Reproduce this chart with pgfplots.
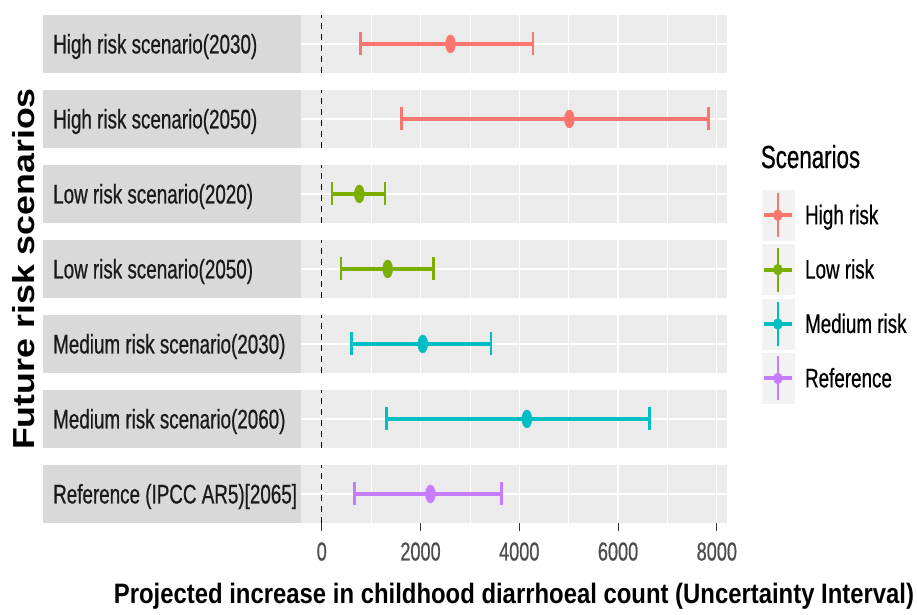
\documentclass[border=0pt]{standalone}
\usepackage{pgfplots}
\pgfplotsset{compat=1.18}
\usepackage{graphicx}
\usepackage{fontspec}
\setmainfont{Liberation Sans}[FakeStretch=0.70, FakeBold=0.6]
\newfontfamily\titlefont{Liberation Sans}[FakeStretch=0.85]
\newfontfamily\ytitlefont{Liberation Sans}
\definecolor{highc}{HTML}{F8766D}
\definecolor{lowc}{HTML}{7CAE00}
\definecolor{medc}{HTML}{00BFC4}
\definecolor{refc}{HTML}{C77CFF}
\definecolor{panelbg}{HTML}{EBEBEB}
\definecolor{stripbg}{HTML}{D9D9D9}
\definecolor{keybg}{HTML}{F2F2F2}
\definecolor{grey30}{HTML}{4D4D4D}
\definecolor{grey20}{HTML}{333333}
\definecolor{grey10}{HTML}{1A1A1A}
\pgfplotsset{
  basepanel/.style={scale only axis, width=425.7bp, height=58.5bp, anchor=north west,
    xmin=-420, xmax=8200, ymin=-1, ymax=1,
    axis background/.style={fill=panelbg},
    axis line style={draw=none},
    xtick={0,2000,4000,6000,8000}, minor x tick num=1,
    ytick={0}, yticklabels={}, ytick style={draw=none},
    xmajorgrids, xminorgrids, ymajorgrids,
    major grid style={white, line width=1.2bp},
    minor grid style={white, line width=0.7bp},
    minor tick length=0pt, xtick style={draw=none}},
  panel/.style={basepanel, xticklabels={}},
  series/.style={#1, only marks, mark=*, mark size=9bp,
    mark options={xscale=0.55, draw=none, fill=#1},
    error bars/.cd, x dir=both, x explicit,
    error bar style={line width=4bp, #1},
    error mark options={rotate=90, line width=2.6bp, mark size=11.5bp, #1}},
  zero/.style={black, dash pattern=on 6bp off 5bp, line width=1.2bp}
}
\usetikzlibrary{calc}
\newcommand{\striplabel}[2]{%
  \fill[stripbg] (43bp,-#1bp) rectangle ++(258bp,-58.5bp);
  \node[anchor=base west, inner sep=0pt, text=grey10, font=\fontsize{27}{27}\selectfont] at ($(53bp,-#1bp)+(0,-38.75bp)$) {#2};}
\begin{document}
\begin{tikzpicture}
\useasboundingbox (0,0) rectangle (917bp,-615bp);
\striplabel{14.7}{High risk scenario(2030)}
\striplabel{89.7}{High risk scenario(2050)}
\striplabel{164.7}{Low risk scenario(2020)}
\striplabel{239.7}{Low risk scenario(2050)}
\striplabel{314.7}{Medium risk scenario(2030)}
\striplabel{389.7}{Medium risk scenario(2060)}
\striplabel{464.7}{Reference (IPCC AR5)[2065]}

\begin{axis}[panel, at={(301bp,-14.7bp)}]
\addplot[zero] coordinates {(0,-1) (0,1)};
\addplot[series=highc] table[x=mid, y=y, x error plus expr=\thisrow{hi}-\thisrow{mid}, x error minus expr=\thisrow{mid}-\thisrow{lo}] {
lo mid hi y
781 2607 4276 0
};
\end{axis}

\begin{axis}[panel, at={(301bp,-89.7bp)}]
\addplot[zero] coordinates {(0,-1) (0,1)};
\addplot[series=highc] table[x=mid, y=y, x error plus expr=\thisrow{hi}-\thisrow{mid}, x error minus expr=\thisrow{mid}-\thisrow{lo}] {
lo mid hi y
1613 5014 7826 0
};
\end{axis}

\begin{axis}[panel, at={(301bp,-164.7bp)}]
\addplot[zero] coordinates {(0,-1) (0,1)};
\addplot[series=lowc] table[x=mid, y=y, x error plus expr=\thisrow{hi}-\thisrow{mid}, x error minus expr=\thisrow{mid}-\thisrow{lo}] {
lo mid hi y
207 761 1282 0
};
\end{axis}

\begin{axis}[panel, at={(301bp,-239.7bp)},
  legend image code/.code={
    \fill[keybg] (0bp,-25bp) rectangle (32bp,25bp);
    \draw[#1, line width=2bp] (16bp,-22bp) -- (16bp,22bp);
    \draw[#1, line width=4bp] (2bp,0bp) -- (30bp,0bp);
    \fill[#1] (16bp,0bp) ellipse [x radius=4.5bp, y radius=5.5bp];
  },
  legend cell align=left,
  legend style={at={(1.0822,1.8496)}, anchor=north west, draw=none, fill=none,
    inner sep=0pt, outer sep=0pt, row sep=4bp,
    font=\fontsize{27}{27}\selectfont,
    /tikz/every odd column/.append style={column sep=9bp}}]
\addplot[forget plot, zero] coordinates {(0,-1) (0,1)};
\addplot[forget plot, series=lowc] table[x=mid, y=y, x error plus expr=\thisrow{hi}-\thisrow{mid}, x error minus expr=\thisrow{mid}-\thisrow{lo}] {
lo mid hi y
389 1335 2262 0
};
\addlegendimage{color=highc}
\addlegendentry{High risk}
\addlegendimage{color=lowc}
\addlegendentry{Low risk}
\addlegendimage{color=medc}
\addlegendentry{Medium risk}
\addlegendimage{color=refc}
\addlegendentry{Reference}
\end{axis}

\begin{axis}[panel, at={(301bp,-314.7bp)}]
\addplot[zero] coordinates {(0,-1) (0,1)};
\addplot[series=medc] table[x=mid, y=y, x error plus expr=\thisrow{hi}-\thisrow{mid}, x error minus expr=\thisrow{mid}-\thisrow{lo}] {
lo mid hi y
605 2045 3424 0
};
\end{axis}

\begin{axis}[panel, at={(301bp,-389.7bp)}]
\addplot[zero] coordinates {(0,-1) (0,1)};
\addplot[series=medc] table[x=mid, y=y, x error plus expr=\thisrow{hi}-\thisrow{mid}, x error minus expr=\thisrow{mid}-\thisrow{lo}] {
lo mid hi y
1308 4154 6637 0
};
\end{axis}

\begin{axis}[panel, at={(301bp,-464.7bp)}]
\addplot[zero] coordinates {(0,-1) (0,1)};
\addplot[series=refc] table[x=mid, y=y, x error plus expr=\thisrow{hi}-\thisrow{mid}, x error minus expr=\thisrow{mid}-\thisrow{lo}] {
lo mid hi y
666 2201 3635 0
};
\end{axis}

% thin axis below the last panel: its grid lines are the tick marks
\begin{axis}[scale only axis, width=425.7bp, height=8bp, anchor=north west,
  at={(301bp,-523.2bp)},
  xmin=-420, xmax=8200, ymin=0, ymax=1,
  axis line style={draw=none},
  xtick={0,2000,4000,6000,8000}, ytick=\empty,
  xtick style={draw=none},
  xmajorgrids, major grid style={grey20, line width=1.1bp},
  /pgf/number format/assume math mode=true,
  /pgf/number format/1000 sep={},
  xticklabel style={font=\fontsize{26}{26}\selectfont, text=grey30, anchor=north, inner sep=0pt, yshift=-11bp}]
\addplot[draw=none, forget plot] coordinates {(0,0) (8000,1)};
\end{axis}

\node[anchor=base west, inner sep=0pt, font=\fontsize{32}{32}\selectfont] at (760.7bp,-168bp) {Scenarios};
\node[anchor=base, inner sep=0pt, font=\titlefont\bfseries\fontsize{28.2}{30}\selectfont] at (514bp,-603bp) {Projected increase in childhood diarrhoeal count (Uncertainty Interval)};
\node[inner sep=0pt] at (23.5bp,-269bp) {\rotatebox{90}{\scalebox{1}[0.85]{\ytitlefont\bfseries\fontsize{35.9}{36}\selectfont Future risk scenarios}}};
\end{tikzpicture}
\end{document}
